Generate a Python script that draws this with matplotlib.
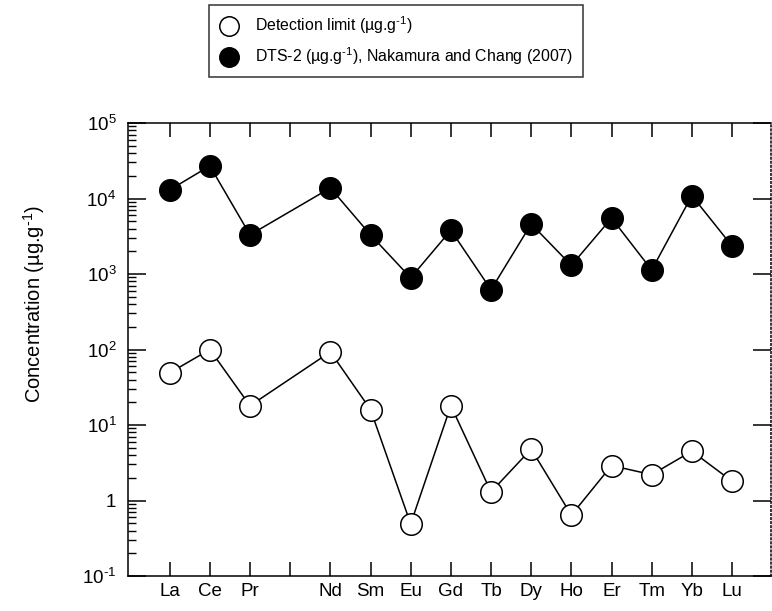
import matplotlib
matplotlib.use("Agg")
import matplotlib.pyplot as plt
from matplotlib.lines import Line2D
from matplotlib.ticker import FixedLocator, FixedFormatter, LogLocator, NullFormatter

plt.rcParams['font.family'] = ['Liberation Sans', 'DejaVu Sans']
plt.rcParams['mathtext.fontset'] = 'custom'
plt.rcParams['mathtext.rm'] = 'Liberation Sans'
plt.rcParams['mathtext.it'] = 'Liberation Sans'
plt.rcParams['mathtext.bf'] = 'Liberation Sans'

# Rare earth elements (Pm slot kept empty on the axis)
elements = ["La", "Ce", "Pr", "Pm", "Nd", "Sm", "Eu", "Gd", "Tb", "Dy", "Ho", "Er", "Tm", "Yb", "Lu"]
tick_labels = ["La", "Ce", "Pr", "", "Nd", "Sm", "Eu", "Gd", "Tb", "Dy", "Ho", "Er", "Tm", "Yb", "Lu"]
measured = ["La", "Ce", "Pr", "Nd", "Sm", "Eu", "Gd", "Tb", "Dy", "Ho", "Er", "Tm", "Yb", "Lu"]

# Concentrations in ug/g
detection_limit = [49, 100, 18, 93, 16, 0.49, 18, 1.3, 4.8, 0.64, 2.9, 2.2, 4.5, 1.8]
dts2 = [13000, 27000, 3300, 13800, 3300, 890, 3800, 620, 4600, 1300, 5500, 1130, 10900, 2350]

x = [elements.index(e) for e in measured]

fig = plt.figure(figsize=(7.72, 6.11), dpi=100)
ax = fig.add_axes([127.5 / 772, 35 / 611, (771 - 127.5) / 772, (576 - 123) / 611])

ms = 15.5
ax.plot(x, dts2, color='black', lw=1.1, marker='o', ms=ms,
        mfc='black', mec='black', mew=1.1, zorder=3)
ax.plot(x, detection_limit, color='black', lw=1.1, marker='o', ms=ms,
        mfc='white', mec='black', mew=1.1, zorder=3)

ax.set_yscale('log')
ax.set_ylim(0.1, 1e5)
ax.set_xlim(-1.05, 14.97)

ax.xaxis.set_major_locator(FixedLocator(range(len(elements))))
ax.xaxis.set_major_formatter(FixedFormatter(tick_labels))

ytick_vals = [0.1, 1, 10, 100, 1e3, 1e4, 1e5]
ytick_text = [r'10$^{\text{-}1}$', '1', r'10$^{1}$', r'10$^{2}$', r'10$^{3}$',
              r'10$^{4}$', r'10$^{5}$']
ax.yaxis.set_major_locator(FixedLocator(ytick_vals))
ax.yaxis.set_major_formatter(FixedFormatter(ytick_text))
ax.yaxis.set_minor_locator(LogLocator(base=10, subs=range(2, 10), numticks=20))
ax.yaxis.set_minor_formatter(NullFormatter())

ax.tick_params(axis='x', which='major', direction='in', length=10, width=1.1,
               top=True, bottom=True, labelsize=13.5, pad=5)
ax.tick_params(axis='y', which='major', direction='in', length=13, width=1.1,
               left=True, right=True, labelsize=13.5, pad=8)
ax.tick_params(axis='y', which='minor', direction='in', length=6, width=1.0,
               left=True, right=False)

for side in ['left', 'bottom', 'top']:
    ax.spines[side].set_linewidth(1.1)
ax.spines['right'].set_linestyle(':')
ax.spines['right'].set_linewidth(1.1)

ax.set_ylabel(r'Concentration (µg.g$^{\text{-}1}$)', fontsize=14.5)
ax.yaxis.set_label_coords(-0.125, 0.60)

handles = [
    Line2D([], [], ls='none', marker='o', ms=14, mfc='white', mec='black', mew=1.1),
    Line2D([], [], ls='none', marker='o', ms=14, mfc='black', mec='black', mew=1.1),
]
labels = [r'Detection limit (µg.g$^{\text{-}1}$)',
          r'DTS-2 (µg.g$^{\text{-}1}$), Nakamura and Chang (2007)']
leg = fig.legend(handles, labels, loc='upper center',
                 bbox_to_anchor=(396 / 772, 1 - 5 / 611), borderaxespad=0,
                 fontsize=11.4, frameon=True, fancybox=False,
                 edgecolor='black', handletextpad=1.0, handlelength=1.3,
                 borderpad=0.6, labelspacing=0.6)
leg.get_frame().set_linewidth(1.1)

fig.savefig('out.png', dpi=100)
